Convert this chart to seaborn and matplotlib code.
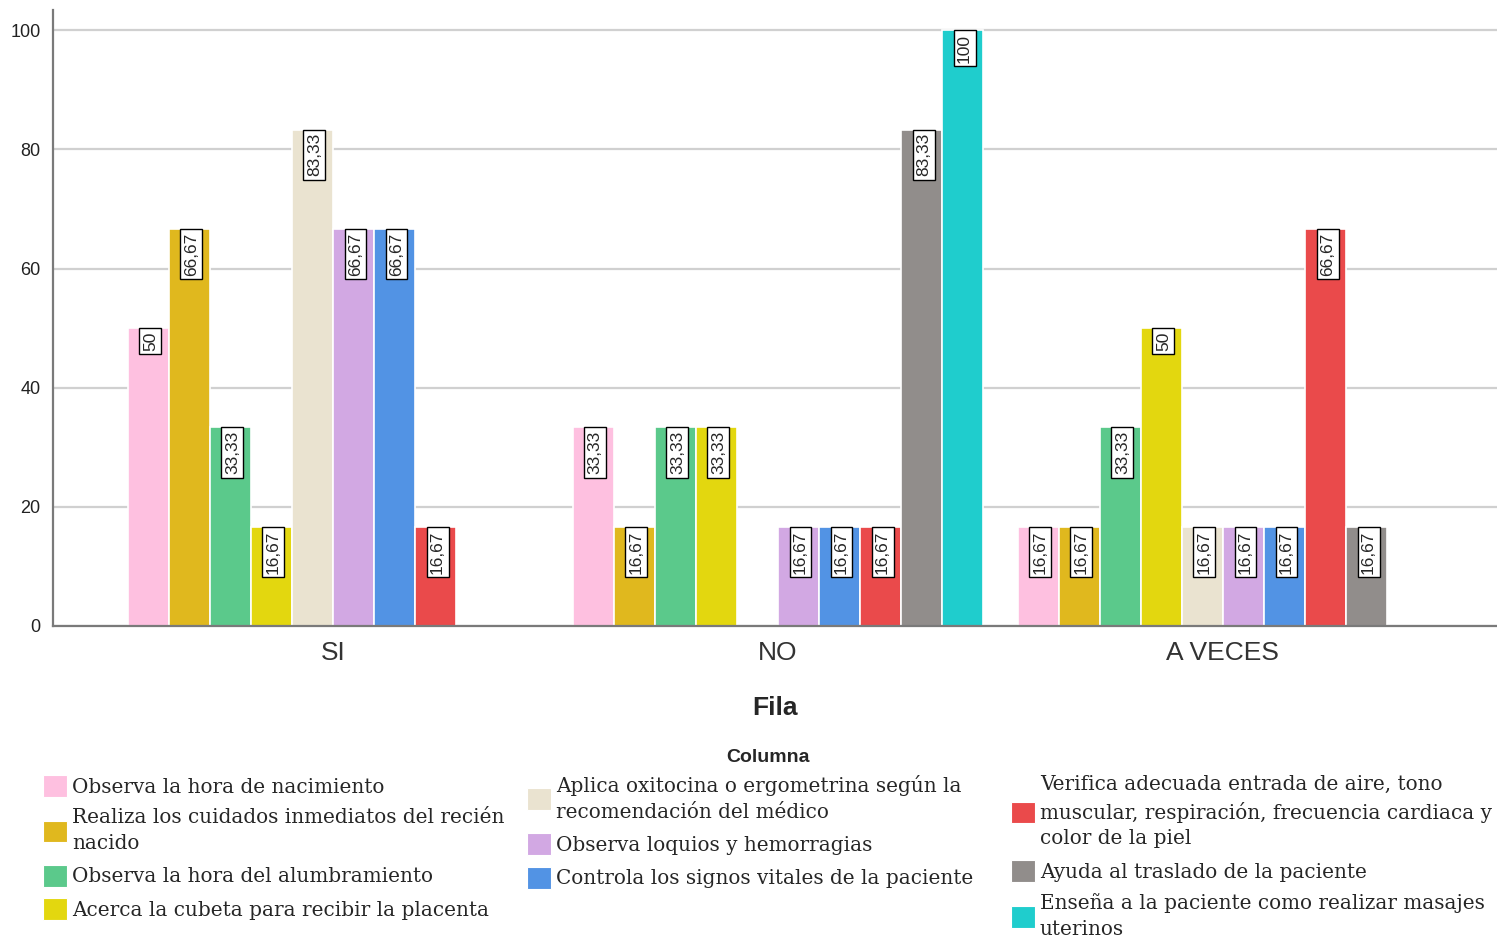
import matplotlib
matplotlib.use("Agg")
import matplotlib.pyplot as plt
from matplotlib.patches import Patch
import seaborn as sns
import pandas as pd

# Row categories on the x axis
categories = ["SI", "NO", "A VECES"]

# Column series (hue levels)
series = [
    "Observa la hora de nacimiento",
    "Realiza los cuidados inmediatos del recién nacido",
    "Observa la hora del alumbramiento",
    "Acerca la cubeta para recibir la placenta",
    "Aplica oxitocina o ergometrina según la recomendación del médico",
    "Observa loquios y hemorragias",
    "Controla los signos vitales de la paciente",
    "Verifica adecuada entrada de aire, tono muscular, respiración, frecuencia cardiaca y color de la piel",
    "Ayuda al traslado de la paciente",
    "Enseña a la paciente como realizar masajes uterinos",
]

# Wrapped legend texts
legend_labels = [
    "Observa la hora de nacimiento",
    "Realiza los cuidados inmediatos del recién\nnacido",
    "Observa la hora del alumbramiento",
    "Acerca la cubeta para recibir la placenta",
    "Aplica oxitocina o ergometrina según la\nrecomendación del médico",
    "Observa loquios y hemorragias",
    "Controla los signos vitales de la paciente",
    "Verifica adecuada entrada de aire, tono\nmuscular, respiración, frecuencia cardiaca y\ncolor de la piel",
    "Ayuda al traslado de la paciente",
    "Enseña a la paciente como realizar masajes\nuterinos",
]

# Percentages per row category, one entry per series
si_values = [50, 66.67, 33.33, 16.67, 83.33, 66.67, 66.67, 16.67, 0, 0]
no_values = [33.33, 16.67, 33.33, 33.33, 0, 16.67, 16.67, 16.67, 83.33, 100]
a_veces_values = [16.67, 16.67, 33.33, 50, 16.67, 16.67, 16.67, 66.67, 16.67, 0]

colors = ["#FEC0E0", "#E0B81E", "#5BC98B", "#E3D70F", "#EAE3D0",
          "#D2A8E3", "#5293E4", "#EA4A4B", "#918D8B", "#1FCDCD"]

rows = []
for cat, vals in zip(categories, [si_values, no_values, a_veces_values]):
    for s, v in zip(series, vals):
        rows.append({"Fila": cat, "Columna": s, "Porcentaje": v})
df = pd.DataFrame(rows)

sns.set_style("white")
plt.rcParams["font.family"] = ["Liberation Sans", "DejaVu Sans"]

W, H = 1497, 942
fig = plt.figure(figsize=(W / 100, H / 100), dpi=100)
ax = fig.add_axes([53 / W, 1 - 626 / H, (W - 53) / W, (626 - 10) / H])

sns.barplot(data=df, x="Fila", y="Porcentaje", hue="Columna",
            order=categories, hue_order=series, palette=colors,
            saturation=1, width=0.922, edgecolor="white", linewidth=1.2,
            legend=False, ax=ax)

ax.set_xlim(-0.629, 2.616)
ax.set_ylim(0, 103.4)
ax.set_yticks([0, 20, 40, 60, 80, 100])
ax.yaxis.grid(True, color="#D0D0D0", linewidth=1.6)
ax.set_axisbelow(True)
for side in ["top", "right"]:
    ax.spines[side].set_visible(False)
for side in ["left", "bottom"]:
    ax.spines[side].set_color("#7A7A7A")
    ax.spines[side].set_linewidth(1.6)

ax.tick_params(axis="y", length=0, pad=9, labelsize=13, labelcolor="#222222")
ax.tick_params(axis="x", length=0, pad=11, labelsize=19, labelcolor="#333333")
ax.set_ylabel("")
ax.set_xlabel("Fila", fontsize=19, fontweight="bold", labelpad=22)

# Value labels in boxed, rotated text at the top of each bar
for container in ax.containers:
    for bar in container:
        h = bar.get_height()
        if h <= 0:
            continue
        txt = f"{h:.2f}".rstrip("0").rstrip(".").replace(".", ",")
        ax.annotate(txt, (bar.get_x() + bar.get_width() / 2, h),
                    xytext=(1.5, -2.5), textcoords="offset points",
                    rotation=90, ha="center", va="top", fontsize=12.5,
                    bbox=dict(boxstyle="square,pad=0.2", fc="white",
                              ec="black", lw=1.0))

# Legend in three columns
fig.text(768 / W, 1 - 757 / H, "Columna", ha="center", va="center",
         fontsize=14, fontweight="bold")

handles = [Patch(facecolor=c, edgecolor="white", linewidth=0.8) for c in colors]
groups = [(0, 4, 43), (4, 7, 527), (7, 10, 1011)]
for start, stop, x0 in groups:
    leg = fig.legend(handles[start:stop], legend_labels[start:stop],
                     loc="upper left", bbox_to_anchor=(x0 / W, 1 - 775 / H),
                     frameon=False, borderpad=0, borderaxespad=0,
                     handlelength=1.2, handleheight=1.3, handletextpad=0.25,
                     labelspacing=0.58,
                     prop={"family": "DejaVu Serif", "size": 14.4})
    for t in leg.get_texts():
        t.set_linespacing(1.45)

fig.savefig("out.png", dpi=100, facecolor="white")
